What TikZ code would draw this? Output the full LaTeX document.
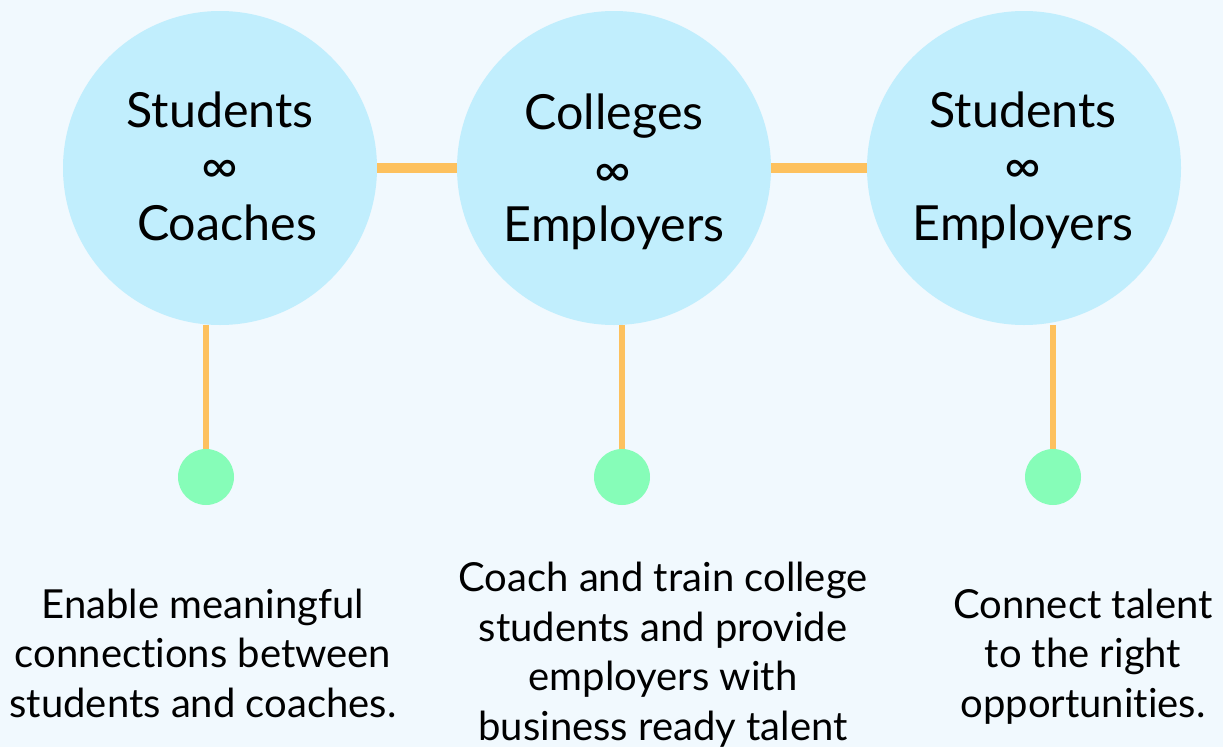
\documentclass[tikz,border=0pt]{standalone}
\usepackage{fontspec}
\setmainfont{Lato}[Ligatures={NoCommon}]
\definecolor{bg}{HTML}{F1F9FE}
\definecolor{circ}{HTML}{C1EEFD}
\definecolor{orng}{HTML}{FDC15E}
\definecolor{grn}{HTML}{86FDB8}
\tikzset{
  bigcirc/.style={circle, fill=circ, minimum size=314pt, inner sep=0pt},
  dot/.style={circle, fill=grn, minimum size=56pt, inner sep=0pt},
  hline/.style={orng, line width=10pt},
  vline/.style={orng, line width=6pt},
  ctext/.style={anchor=base, font=\fontsize{48.4}{56}\selectfont, inner sep=0pt},
  inf/.style={anchor=center, font=\fontsize{50}{56}\selectfont, inner sep=0pt},
  btext/.style={anchor=base, align=center, font=\fontsize{40}{49.5}\selectfont, inner sep=0pt}
}
\begin{document}
\begin{tikzpicture}[x=1pt,y=-1pt]
\fill[bg] (0,0) rectangle (1223,747);
\useasboundingbox (0,0) rectangle (1223,747);
\node[bigcirc] (c1) at (220,168) {};
\node[bigcirc] (c2) at (614,168) {};
\node[bigcirc] (c3) at (1024,168) {};
\node[dot] (d1) at (206,477) {};
\node[dot] (d2) at (622,477) {};
\node[dot] (d3) at (1053,477) {};
\draw[hline] (c1.east) -- (c2.west);
\draw[hline] (c2.east) -- (c3.west);
\draw[vline] (d1.north) -- (d1 |- c1.south);
\draw[vline] (d2.north) -- (d2 |- c2.south);
\draw[vline] (d3.north) -- (d3 |- c3.south);
% circle texts
\node[ctext] (t1a) at (220,127) {Students};
\node[inf] (t1b) at (220,172) {∞};
\node[ctext] (t1c) at (227,240) {Coaches};
\node[ctext] (t2a) at (614,129) {Colleges};
\node[inf] (t2b) at (613,176) {∞};
\node[ctext] (t2c) at (614,241) {Employers};
\node[ctext] (t3a) at (1023,127) {Students};
\node[inf] (t3b) at (1023,172) {∞};
\node[ctext] (t3c) at (1023,240) {Employers};
% bottom texts
\node[btext] (b1) at (203,717) {Enable meaningful\\connections between\\students and coaches.};
\node[btext] (b2) at (663,740) {Coach and train college\\students and provide\\employers with\\business ready talent};
\node[btext] (b3) at (1083,717) {Connect talent\\to the right\\opportunities.};
\end{tikzpicture}
\end{document}
